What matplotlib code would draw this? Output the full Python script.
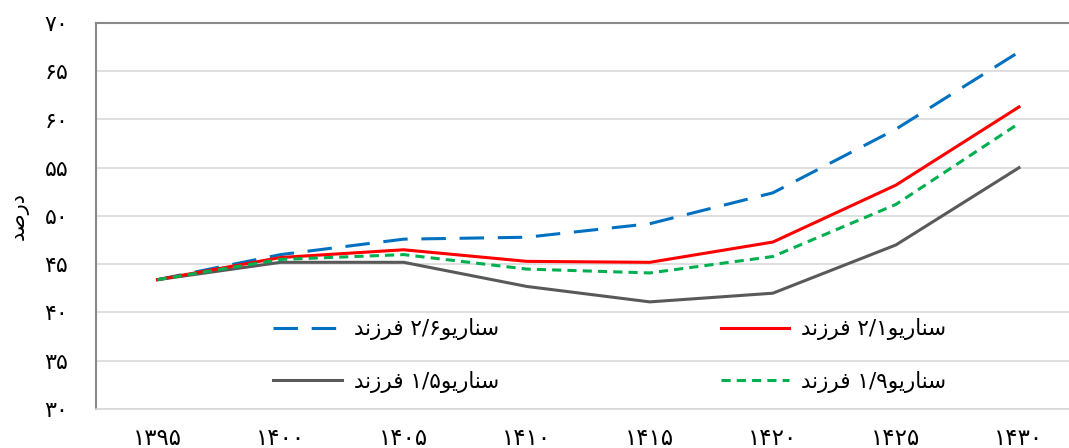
import matplotlib
matplotlib.use("Agg")
import matplotlib.pyplot as plt

# data (percent)
years = [1395, 1400, 1405, 1410, 1415, 1420, 1425, 1430]
s26 = [43.4, 46.0, 47.6, 47.8, 49.2, 52.4, 59.0, 67.0]
s21 = [43.4, 45.7, 46.5, 45.3, 45.2, 47.3, 53.2, 61.3]
s19 = [43.4, 45.5, 46.0, 44.5, 44.1, 45.8, 51.2, 59.6]
s15 = [43.4, 45.2, 45.2, 42.7, 41.1, 42.0, 47.0, 55.0]
yticks = [30, 35, 40, 45, 50, 55, 60, 65, 70]

# matplotlib does no arabic shaping, so do it by hand with presentation forms
FORMS = {  # isolated, final, initial, medial
    'ا': ('\uFE8D', '\uFE8E', None, None),
    'د': ('\uFEA9', '\uFEAA', None, None),
    'ر': ('\uFEAD', '\uFEAE', None, None),
    'ز': ('\uFEAF', '\uFEB0', None, None),
    'و': ('\uFEED', '\uFEEE', None, None),
    'س': ('\uFEB1', '\uFEB2', '\uFEB3', '\uFEB4'),
    'ص': ('\uFEB9', '\uFEBA', '\uFEBB', '\uFEBC'),
    'ف': ('\uFED1', '\uFED2', '\uFED3', '\uFED4'),
    'ن': ('\uFEE5', '\uFEE6', '\uFEE7', '\uFEE8'),
    'ی': ('\uFBFC', '\uFBFD', '\uFEF3', '\uFEF4'),
}


def dual(ch):
    return ch in FORMS and FORMS[ch][2] is not None


def shape(word):
    out = []
    for i, ch in enumerate(word):
        prev = word[i - 1] if i > 0 else None
        nxt = word[i + 1] if i + 1 < len(word) else None
        jp = dual(prev)
        jn = dual(ch) and nxt in FORMS
        iso, fin, ini, med = FORMS[ch]
        if jp and jn:
            out.append(med)
        elif jp:
            out.append(fin)
        elif jn:
            out.append(ini)
        else:
            out.append(iso)
    return ''.join(reversed(out))


FA = str.maketrans('0123456789', '۰۱۲۳۴۵۶۷۸۹')


def fa(s):
    return str(s).translate(FA)


def label(num):
    return shape('فرزند') + ' ' + fa(num) + shape('سناریو')


fig = plt.figure(figsize=(10.69, 4.48), dpi=100)
ax = fig.add_axes([96 / 1069, 39 / 448, 984.5 / 1069, 386 / 448])

x = range(len(years))
l15, = ax.plot(x, s15, color='#595959', lw=2.2, label=label('1/5'))
l26, = ax.plot(x, s26, color='#0070C0', lw=2.2, linestyle=(0, (8, 4.5)), label=label('2/6'))
l21, = ax.plot(x, s21, color='#FF0000', lw=2.2, label=label('2/1'))
l19, = ax.plot(x, s19, color='#00B050', lw=2.2, linestyle=(0, (3, 2)), label=label('1/9'))

ax.set_xlim(-0.5, len(years) - 0.5)
ax.set_ylim(30, 70)
ax.set_yticks(yticks)
ax.set_yticklabels([fa(v) for v in yticks], fontsize=16)
ax.set_xticks(list(x))
ax.set_xticklabels([fa(y) for y in years], fontsize=16.5)
ax.tick_params(length=0)
ax.tick_params(axis='y', pad=20)
ax.tick_params(axis='x', pad=13)
ax.grid(axis='y', color='#d9d9d9', lw=1.2)
ax.set_axisbelow(True)
for s in ['left', 'top']:
    ax.spines[s].set_color('#898989')
    ax.spines[s].set_linewidth(1.5)
ax.spines['bottom'].set_color('#d9d9d9')
ax.spines['bottom'].set_linewidth(1.2)
ax.spines['right'].set_visible(False)

ax.set_ylabel(shape('درصد'), fontsize=15, labelpad=11)

ax.legend(handles=[l26, l15, l21, l19], ncol=2, frameon=False, fontsize=15.5,
          loc='upper left', bbox_to_anchor=(0.16, 0.285), handlelength=3.2,
          handletextpad=0.55, columnspacing=10.3, labelspacing=1.4)

fig.savefig('out.png', dpi=100)
